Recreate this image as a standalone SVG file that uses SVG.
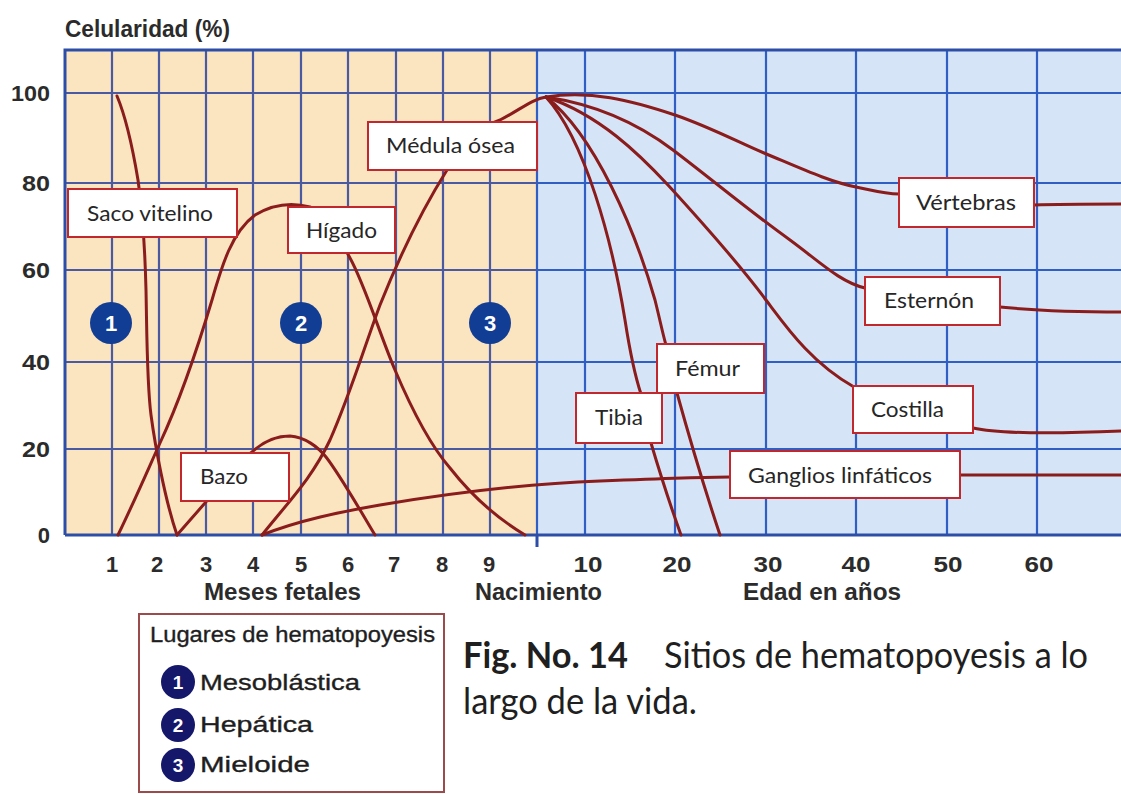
<svg xmlns="http://www.w3.org/2000/svg" width="1121" height="794" viewBox="0 0 1121 794">
<style>
.gl{stroke:#4a5aa2;stroke-width:2.2;fill:none}
.glb{stroke:#2f5fc4;stroke-width:2.2;fill:none}
.frame{stroke:#2c4ea6;stroke-width:3;fill:none}
.curve{fill:none;stroke:#8a1c1c;stroke-width:3;stroke-linecap:round;stroke-linejoin:round}
.box{fill:#fff;stroke:#c0282d;stroke-width:2}
.lbl{font-family:Lato,"Open Sans",sans-serif;font-size:22px;fill:#262626}
.ax{font-family:"Liberation Sans",Arial,sans-serif;font-weight:bold;font-size:23px;fill:#2b2b2b}
.axm{font-family:"Liberation Sans",Arial,sans-serif;font-weight:bold;font-size:22px;fill:#2b2b2b;text-anchor:middle}
.axe{font-family:"Liberation Sans",Arial,sans-serif;font-weight:bold;font-size:22px;fill:#2b2b2b;text-anchor:end}
.zc{fill:#123d94}
.lc{fill:#15176a}
.num{font-family:"Liberation Sans",Arial,sans-serif;font-weight:bold;font-size:22px;fill:#fff;text-anchor:middle}
.numl{font-family:"Liberation Sans",Arial,sans-serif;font-weight:bold;font-size:19px;fill:#fff;text-anchor:middle}
.leg{font-family:"Liberation Sans",Arial,sans-serif;font-size:22px;fill:#1e1e1e;stroke:#1e1e1e;stroke-width:0.35}
.cap{font-family:Lato,"Open Sans",sans-serif;font-size:36px;fill:#1f1f1f}
</style>
<rect x="0" y="0" width="1121" height="794" fill="#fff"/>
<g id="plot-area">
<rect x="65" y="50" width="472" height="485" fill="#fbe4c0"/>
<rect x="537" y="50" width="584" height="485" fill="#d6e4f7"/>
<g id="grid">
<path class="gl" d="M112,50V535M159,50V535M206,50V535M253,50V535M301,50V535M348,50V535M396,50V535M443,50V535M490,50V535"/>
<path class="glb" d="M537,50V535M585,50V535M675,50V535M766,50V535M856,50V535M947,50V535M1037,50V535"/>
<path class="gl" d="M65,93H537M65,183H537M65,270H537M65,362H537M65,449H537"/>
<path class="glb" d="M537,93H1121M537,183H1121M537,270H1121M537,362H1121M537,449H1121"/>
<path class="frame" d="M65,535V50H1121M65,535H1121M537,535V547"/>
</g>
</g>
<g id="connectors">
<path id="c-saco" class="curve" d="M117,96 C125,115 133,150 138,180 C143,215 145,250 146,290 C147,340 147,385 151,415 C155,445 165,500 177,535"/>
<path id="c-higado" class="curve" d="M118,535 C135,500 150,465 160,443 C180,400 200,340 212,300 C222,265 232,232 255,215 C275,203 295,203 310,207 C330,215 340,240 350,258 C365,285 380,335 395,370 C412,410 430,445 450,468 C475,500 500,520 525,535"/>
<path id="c-bazo" class="curve" d="M177,535 L205,503 C220,485 240,460 252,452 C265,440 278,436 290,436 C305,437 318,447 326,457 C340,475 360,510 375,535"/>
<path id="c-medula" class="curve" d="M262,535 C290,500 312,478 330,440 C350,395 365,345 380,305 C400,255 425,205 447,170 C465,140 485,125 500,120 C520,110 532,99 546,97"/>
<path id="c-ganglios" class="curve" d="M262,535 C300,520 340,512 380,505 C440,495 520,484 600,481 C650,479 700,477 730,477"/>
<path id="c-ganglios2" class="curve" d="M960,475 L1121,475"/>
<path id="c-vertebras" class="curve" d="M546,97 C590,90 630,100 675,115 C710,127 740,143 764,153 C800,168 830,182 856,187 C875,191 885,194 899,194"/>
<path id="c-vertebras2" class="curve" d="M1034,205 C1060,204 1090,204 1121,204"/>
<path id="c-esternon" class="curve" d="M546,97 C600,105 640,125 673,150 C710,178 752,213 790,240 C820,262 840,282 865,288"/>
<path id="c-esternon2" class="curve" d="M1000,307 C1030,310 1080,312 1121,312"/>
<path id="c-costilla" class="curve" d="M546,97 C600,115 640,155 668,185 C700,220 740,265 766,300 C785,325 810,362 854,387"/>
<path id="c-costilla2" class="curve" d="M973,428 C1000,434 1050,434 1121,431"/>
<path id="c-femur" class="curve" d="M546,97 C595,135 635,230 655,300 C660,320 663,335 666,345 M677,393 C690,440 705,490 720,535"/>
<path id="c-tibia" class="curve" d="M546,97 C585,140 612,240 625,320 C632,365 638,385 641,394 M651,443 C662,480 672,510 681,535"/>
</g>
<g id="label-saco"><rect class="box" x="68" y="189" width="169" height="48"/><text class="lbl" x="87" y="221" textLength="126" lengthAdjust="spacingAndGlyphs">Saco vitelino</text></g>
<g id="label-higado"><rect class="box" x="288" y="207" width="107" height="46"/><text class="lbl" x="306" y="238" textLength="71" lengthAdjust="spacingAndGlyphs">Hígado</text></g>
<g id="label-medula"><rect class="box" x="368" y="122" width="169" height="48"/><text class="lbl" x="386" y="153" textLength="129" lengthAdjust="spacingAndGlyphs">Médula ósea</text></g>
<g id="label-bazo"><rect class="box" x="181" y="453" width="108" height="48"/><text class="lbl" x="200" y="484" textLength="48" lengthAdjust="spacingAndGlyphs">Bazo</text></g>
<g id="label-vertebras"><rect class="box" x="899" y="178" width="135" height="49"/><text class="lbl" x="916" y="210" textLength="100" lengthAdjust="spacingAndGlyphs">Vértebras</text></g>
<g id="label-esternon"><rect class="box" x="865" y="277" width="135" height="48"/><text class="lbl" x="884" y="308" textLength="90" lengthAdjust="spacingAndGlyphs">Esternón</text></g>
<g id="label-femur"><rect class="box" x="657" y="344" width="107" height="49"/><text class="lbl" x="675" y="376" textLength="65" lengthAdjust="spacingAndGlyphs">Fémur</text></g>
<g id="label-tibia"><rect class="box" x="576" y="393" width="86" height="50"/><text class="lbl" x="595" y="425" textLength="48" lengthAdjust="spacingAndGlyphs">Tibia</text></g>
<g id="label-costilla"><rect class="box" x="853" y="386" width="120" height="47"/><text class="lbl" x="871" y="417" textLength="73" lengthAdjust="spacingAndGlyphs">Costilla</text></g>
<g id="label-ganglios"><rect class="box" x="730" y="451" width="230" height="47"/><text class="lbl" x="748" y="483" textLength="184" lengthAdjust="spacingAndGlyphs">Ganglios linfáticos</text></g>
<g id="zone-1"><circle class="zc" cx="111" cy="323" r="21"/><text class="num" x="111" y="331">1</text></g>
<g id="zone-2"><circle class="zc" cx="301" cy="323" r="21"/><text class="num" x="301" y="331">2</text></g>
<g id="zone-3"><circle class="zc" cx="490" cy="323" r="21"/><text class="num" x="490" y="331">3</text></g>
<g id="axis-labels">
<text class="ax" x="65" y="37" textLength="165" lengthAdjust="spacingAndGlyphs">Celularidad (%)</text>
<text class="axe" x="50" y="101" textLength="39" lengthAdjust="spacingAndGlyphs">100</text>
<text class="axe" x="50" y="191" textLength="28" lengthAdjust="spacingAndGlyphs">80</text>
<text class="axe" x="50" y="278" textLength="28" lengthAdjust="spacingAndGlyphs">60</text>
<text class="axe" x="50" y="370" textLength="28" lengthAdjust="spacingAndGlyphs">40</text>
<text class="axe" x="50" y="457" textLength="28" lengthAdjust="spacingAndGlyphs">20</text>
<text class="axe" x="50" y="543">0</text>
<text class="axm" x="112" y="572">1</text>
<text class="axm" x="157" y="572">2</text>
<text class="axm" x="206" y="572">3</text>
<text class="axm" x="253" y="572">4</text>
<text class="axm" x="301" y="572">5</text>
<text class="axm" x="348" y="572">6</text>
<text class="axm" x="394" y="572">7</text>
<text class="axm" x="442" y="572">8</text>
<text class="axm" x="489" y="572">9</text>
<text class="axm" x="588" y="572" textLength="29" lengthAdjust="spacingAndGlyphs">10</text>
<text class="axm" x="677" y="572" textLength="29" lengthAdjust="spacingAndGlyphs">20</text>
<text class="axm" x="768" y="572" textLength="29" lengthAdjust="spacingAndGlyphs">30</text>
<text class="axm" x="856" y="572" textLength="29" lengthAdjust="spacingAndGlyphs">40</text>
<text class="axm" x="948" y="572" textLength="29" lengthAdjust="spacingAndGlyphs">50</text>
<text class="axm" x="1039" y="572" textLength="29" lengthAdjust="spacingAndGlyphs">60</text>
<text class="ax" x="204" y="600" textLength="157" lengthAdjust="spacingAndGlyphs">Meses fetales</text>
<text class="ax" x="475" y="600" textLength="127" lengthAdjust="spacingAndGlyphs">Nacimiento</text>
<text class="ax" x="743" y="600" textLength="158" lengthAdjust="spacingAndGlyphs">Edad en años</text>
</g>
<g id="legend">
<rect x="139" y="614" width="305" height="178" fill="#fff" stroke="#9b4b4b" stroke-width="2"/>
<text class="leg" x="150" y="642" textLength="285" lengthAdjust="spacingAndGlyphs">Lugares de hematopoyesis</text>
<circle class="lc" cx="178" cy="682" r="17"/><text class="numl" x="178" y="689">1</text>
<text class="leg" x="200" y="690" textLength="160" lengthAdjust="spacingAndGlyphs">Mesoblástica</text>
<circle class="lc" cx="178" cy="725" r="17"/><text class="numl" x="178" y="732">2</text>
<text class="leg" x="200" y="732" textLength="113" lengthAdjust="spacingAndGlyphs">Hepática</text>
<circle class="lc" cx="178" cy="765" r="17"/><text class="numl" x="178" y="772">3</text>
<text class="leg" x="200" y="772" textLength="110" lengthAdjust="spacingAndGlyphs">Mieloide</text>
</g>
<g id="caption">
<text class="cap" x="463" y="668"><tspan font-weight="bold" textLength="165" lengthAdjust="spacingAndGlyphs">Fig. No. 14</tspan></text>
<text class="cap" x="664" y="668" textLength="424" lengthAdjust="spacingAndGlyphs">Sitios de hematopoyesis a lo</text>
<text class="cap" x="463" y="714" textLength="234" lengthAdjust="spacingAndGlyphs">largo de la vida.</text>
</g>
</svg>
